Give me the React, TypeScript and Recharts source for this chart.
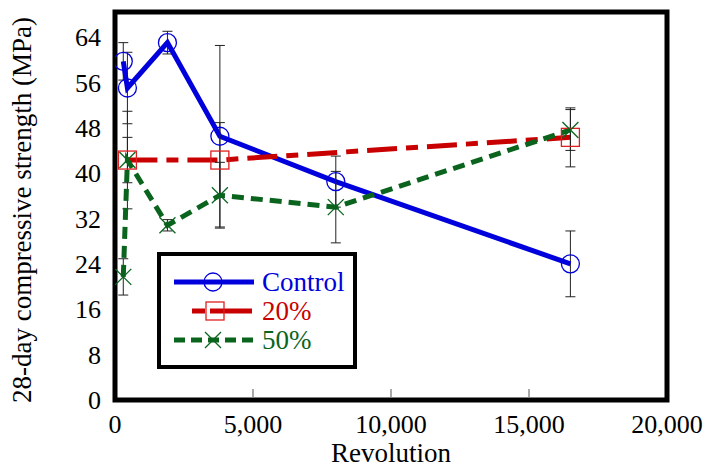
import { ErrorBar, Label, Line, LineChart, ReferenceArea, XAxis, YAxis } from "recharts";

const revolutions = [300, 450, 1900, 3800, 8000, 16500];
const controlMpa = [59.7, 55, 63, 46.5, 38.5, 24];
const controlErr = [3.3, 6.3, 2, 16, 4.5, 5.8];

const rev20 = [450, 3800, 16500];
const pct20Mpa = [42.3, 42.3, 46.3];
const pct20Err = [8.6, 6.6, 5.2];

const pct50Mpa = [21.7, 42.3, 30.8, 36.1, 34, 47.6];
const pct50Err = [3.2, 4, 1, 5.8, 6.3, 3.6];

const xTicks = [0, 5000, 10000, 15000, 20000];
const yTicks = [0, 8, 16, 24, 32, 40, 48, 56, 64];
const Y_MAX = 68.4;

const BLUE = "#0000dc";
const RED = "#c80000";
const GREEN = "#0a641e";
const FONT = "'Liberation Serif', 'Times New Roman', serif";

const toRows = (xs: number[], ys: number[], es: number[]) =>
  xs.map((x, i) => ({ x, y: ys[i], err: es[i] }));

const controlData = toRows(revolutions, controlMpa, controlErr);
const pct20Data = toRows(rev20, pct20Mpa, pct20Err);
const pct50Data = toRows(revolutions, pct50Mpa, pct50Err);

const CircleDot = (p: any) => (
  <circle key={`c${p.index}`} cx={p.cx} cy={p.cy} r={9} fill="none" stroke={BLUE} strokeWidth={1.3} />
);
const SquareDot = (p: any) => (
  <rect key={`s${p.index}`} x={p.cx - 9} y={p.cy - 9} width={18} height={18} fill="none" stroke="#dd2020" strokeWidth={1.3} />
);
const CrossDot = (p: any) => (
  <g key={`x${p.index}`} stroke={GREEN} strokeWidth={1.3}>
    <line x1={p.cx - 8} y1={p.cy - 8} x2={p.cx + 8} y2={p.cy + 8} />
    <line x1={p.cx - 8} y1={p.cy + 8} x2={p.cx + 8} y2={p.cy - 8} />
  </g>
);

// x ticks point inward from the bottom frame, labels sit below it
const XTick = (p: any) => {
  const v = p.payload.value;
  const inner = v !== xTicks[0] && v !== xTicks[xTicks.length - 1];
  return (
    <g>
      {inner && <line x1={p.x} x2={p.x} y1={p.y - 3} y2={p.y - 11} stroke="#555" strokeWidth={1} />}
      <text x={p.x} y={p.y + 33} textAnchor="middle" style={{ fontSize: 26, fontFamily: FONT }} fill="#000">
        {v.toLocaleString("en-US")}
      </text>
    </g>
  );
};

const legendText = { fontSize: 27, fontFamily: FONT };

function Legend() {
  return (
    <div
      style={{
        position: "absolute",
        left: 157,
        top: 252,
        width: 192,
        height: 109,
        border: "4px solid #000",
        background: "#fff",
      }}
    >
      <svg width={192} height={109} style={{ display: "block" }}>
        <line x1={13} x2={93} y1={26} y2={26} stroke={BLUE} strokeWidth={5} />
        <circle cx={52} cy={26} r={9} fill="none" stroke={BLUE} strokeWidth={1.3} />
        <text x={101} y={35} fill={BLUE} style={legendText}>Control</text>

        <line x1={31} x2={91} y1={55} y2={55} stroke={RED} strokeWidth={5} strokeDasharray="13 5 42" />
        <rect x={45} y={46} width={18} height={18} fill="none" stroke="#dd2020" strokeWidth={1.3} />
        <text x={101} y={64} fill={RED} style={legendText}>20%</text>

        <line x1={13} x2={93} y1={84} y2={84} stroke={GREEN} strokeWidth={5} strokeDasharray="11 6" />
        <line x1={44} y1={76} x2={60} y2={92} stroke={GREEN} strokeWidth={1.3} />
        <line x1={44} y1={92} x2={60} y2={76} stroke={GREEN} strokeWidth={1.3} />
        <text x={101} y={93} fill={GREEN} style={legendText}>50%</text>
      </svg>
    </div>
  );
}

export default function App() {
  return (
    <div style={{ position: "absolute", left: 0, top: 0, width: 706, height: 467, background: "#fff" }}>
      <LineChart width={706} height={467} margin={{ top: 12, right: 39, bottom: 0, left: 35 }}>
        <XAxis
          dataKey="x"
          type="number"
          domain={[0, 20000]}
          ticks={xTicks}
          height={67}
          tickSize={0}
          tickMargin={0}
          tickLine={false}
          axisLine={false}
          tick={<XTick />}
          allowDataOverflow
        >
          <Label
            content={() => (
              <text x={391} y={462} textAnchor="middle" style={{ fontSize: 27, fontFamily: FONT }} fill="#000">
                Revolution
              </text>
            )}
          />
        </XAxis>
        <YAxis
          type="number"
          domain={[0, Y_MAX]}
          ticks={yTicks}
          width={80}
          tickLine={false}
          tickSize={0}
          tickMargin={14}
          axisLine={false}
          tick={{ fontSize: 26, fontFamily: FONT, fill: "#000" }}
          allowDataOverflow
        >
          <Label
            content={() => (
              <text
                x={31}
                y={210}
                transform="rotate(-90 31 210)"
                textAnchor="middle"
                style={{ fontSize: 27, fontFamily: FONT }}
                fill="#000"
              >
                28-day compressive strength (MPa)
              </text>
            )}
          />
        </YAxis>

        {/* heavy frame round the plot area */}
        <ReferenceArea x1={0} x2={20000} y1={0} y2={Y_MAX} fill="none" fillOpacity={0} stroke="#000" strokeWidth={5} strokeOpacity={1} />

        <Line data={controlData} dataKey="y" stroke={BLUE} strokeWidth={5} dot={CircleDot} activeDot={false} isAnimationActive={false}>
          <ErrorBar dataKey="err" direction="y" width={5} stroke="#222" strokeWidth={1} />
        </Line>
        <Line data={pct20Data} dataKey="y" stroke={RED} strokeWidth={5} strokeDasharray="30 9 12 9" dot={SquareDot} activeDot={false} isAnimationActive={false}>
          <ErrorBar dataKey="err" direction="y" width={5} stroke="#222" strokeWidth={1} />
        </Line>
        <Line data={pct50Data} dataKey="y" stroke={GREEN} strokeWidth={5} strokeDasharray="12 7" dot={CrossDot} activeDot={false} isAnimationActive={false}>
          <ErrorBar dataKey="err" direction="y" width={5} stroke="#222" strokeWidth={1} />
        </Line>
      </LineChart>
      <Legend />
    </div>
  );
}
